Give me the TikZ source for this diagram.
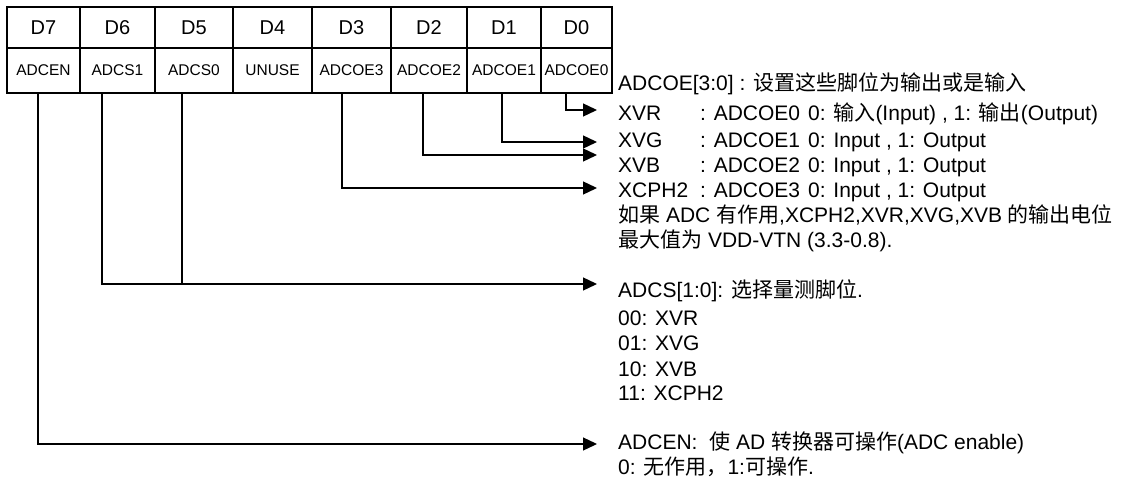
\documentclass[tikz,border=0pt]{standalone}
\usepackage{fontspec}
\setmainfont{Liberation Sans}
\newfontfamily\cjk{Noto Sans CJK SC}
\usetikzlibrary{arrows.meta}

\begin{document}
\begin{tikzpicture}[x=1pt,y=-1pt,
  cell/.style={draw,line width=1.4pt,inner sep=0pt,outer sep=0pt},
  hdcell/.style={cell,minimum height=41pt,font=\fontsize{20}{24}\selectfont},
  fdcell/.style={cell,minimum height=45pt,font=\fontsize{15.5}{18}\selectfont},
  txt/.style={anchor=base west,inner sep=0pt,font=\fontsize{21}{25}\selectfont},
  wire/.style={line width=1.3pt},
  arr/.style={wire,-{Triangle[length=14pt,width=13pt]}}]

\useasboundingbox (0,0) rectangle (1123,484);

% 寄存器各位
\foreach \n/\xl/\xr/\bit/\fld in {7/7/80/D7/ADCEN,6/80/155/D6/ADCS1,5/155/233/D5/ADCS0,
  4/233/312/D4/UNUSE,3/312/391/D3/ADCOE3,2/391/467/D2/ADCOE2,1/467/541/D1/ADCOE1,0/541/612/D0/ADCOE0}{
  \node[hdcell,minimum width={(\xr-\xl)*1pt}] (h\n) at ({(\xl+\xr)/2},27.5) {\bit};
  \node[fdcell,minimum width={(\xr-\xl)*1pt}] (f\n) at ({(\xl+\xr)/2},70.5) {\fld};
}

% 引出点
\coordinate (t7) at (38,93);
\coordinate (t6) at (102,93);
\coordinate (t5) at (182,93);
\coordinate (t3) at (342,93);
\coordinate (t2) at (423,93);
\coordinate (t1) at (502,93);
\coordinate (t0) at (566,93);

% 箭头终点
\coordinate (e0) at (597,110);
\coordinate (e1) at (597,142);
\coordinate (e2) at (597,155);
\coordinate (e3) at (597,188);
\coordinate (e6) at (597,284);
\coordinate (e7) at (597,444);

% 说明文字
\node[txt] (oehd) at (618,91) {ADCOE[3:0] : {\cjk 设置这些脚位为输出或是输入}};
\node[txt] (xvr) at (618,121) {\makebox[82pt][l]{XVR}\makebox[108pt][l]{: ADCOE0}0: {\cjk 输入}(Input) , 1: {\cjk 输出}(Output)};
\node[txt] (xvg) at (618,147) {\makebox[82pt][l]{XVG}\makebox[108pt][l]{: ADCOE1}0: Input , 1: Output};
\node[txt] (xvb) at (618,172) {\makebox[82pt][l]{XVB}\makebox[108pt][l]{: ADCOE2}0: Input , 1: Output};
\node[txt] (xcph) at (618,197) {\makebox[82pt][l]{XCPH2}\makebox[108pt][l]{: ADCOE3}0: Input , 1: Output};
\node[txt] (nt1) at (618,222) {{\cjk 如果} ADC {\cjk 有作用},XCPH2,XVR,XVG,XVB {\cjk 的输出电位}};
\node[txt] (nt2) at (618,247) {{\cjk 最大值为} VDD-VTN (3.3-0.8).};

\node[txt] (cshd) at (618,297) {ADCS[1:0]: {\cjk 选择量测脚位}.};
\node[txt] (cs00) at (618,325) {00: XVR};
\node[txt] (cs01) at (618,350) {01: XVG};
\node[txt] (cs10) at (618,376) {10: XVB};
\node[txt] (cs11) at (618,400) {11: XCPH2};

\node[txt] (enhd) at (618,449) {ADCEN:\ \ {\cjk 使} AD {\cjk 转换器可操作}(ADC enable)};
\node[txt] (en01) at (618,474) {0: {\cjk 无作用，}1:{\cjk 可操作}.};

% 连线
\draw[arr] (t0) |- (e0);
\draw[arr] (t1) |- (e1);
\draw[arr] (t2) |- (e2);
\draw[arr] (t3) |- (e3);
\draw[arr] (t6) |- (e6);
\draw[wire] (t5) -- (t5 |- e6);
\draw[arr] (t7) |- (e7);

\end{tikzpicture}
\end{document}
